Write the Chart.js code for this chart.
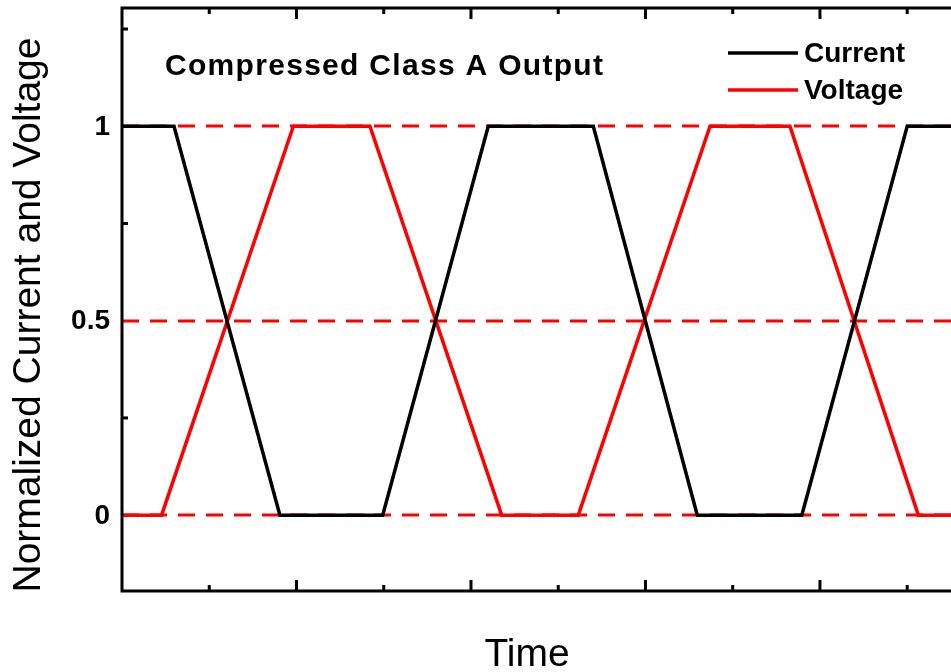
<!DOCTYPE html>
<html>
<head>
<meta charset="utf-8">
<title>Compressed Class A Output</title>
<script src="https://cdn.jsdelivr.net/npm/chart.js@4.4.1/dist/chart.umd.min.js"></script>
<style>
  html, body { margin: 0; padding: 0; background: #fff; overflow: hidden; }
  #wrap { width: 951px; height: 672px; }
</style>
</head>
<body>
<div id="wrap"><canvas id="waveChart" width="951" height="672"></canvas></div>
<script>
// Datos (tiempo en unidades de marca mayor)
const currentTime  = [0, 0.298, 0.905, 1.494, 2.099, 2.701, 3.297, 3.896, 4.5, 4.751];
const currentLevel = [1, 1, 0, 0, 1, 1, 0, 0, 1, 1];
const voltageTime  = [0, 0.227, 0.982, 1.421, 2.176, 2.615, 3.37, 3.828, 4.564, 4.751];
const voltageLevel = [0, 0, 1, 1, 0, 0, 1, 1, 0, 0];

// Marcas y etiquetas de los ejes
const yTickValues = [0, 0.5, 1];
const yTickLabels = ['0', '0.5', '1'];
const yMinorTicks = [0.25, 0.75, 1.25];
const xMajorTicks = [1, 2, 3, 4];
const xMinorTicks = [0.5, 1.5, 2.5, 3.5, 4.5];
const refLevels   = [0, 0.5, 1];

const seriesNames = ['Current', 'Voltage'];
const seriesColors = ['#000000', '#ff0000'];

const toPoints = (xs, ys) => xs.map((x, i) => ({ x: x, y: ys[i] }));

const FONT = '"Liberation Sans", Arial, sans-serif';

// Plugin: ejes en caja, marcas hacia dentro, líneas discontinuas y textos
const framePlugin = {
  id: 'frame',
  beforeDatasetsDraw(chart) {
    const { ctx, chartArea: a, scales: { y } } = chart;
    ctx.save();
    ctx.strokeStyle = '#ff0000';
    ctx.lineWidth = 3;
    ctx.setLineDash([17, 11]);
    refLevels.forEach(v => {
      const py = Math.round(y.getPixelForValue(v));
      ctx.beginPath();
      ctx.moveTo(a.left, py);
      ctx.lineTo(a.right, py);
      ctx.stroke();
    });
    ctx.restore();
  },
  afterDatasetsDraw(chart) {
    const { ctx, chartArea: a, scales: { x, y } } = chart;
    ctx.save();
    ctx.strokeStyle = '#000';
    ctx.lineWidth = 3;
    ctx.lineCap = 'square';
    // caja (sin borde derecho, recortado en el original)
    ctx.beginPath();
    ctx.moveTo(a.right + 5, a.top);
    ctx.lineTo(a.left, a.top);
    ctx.lineTo(a.left, a.bottom);
    ctx.lineTo(a.right + 5, a.bottom);
    ctx.stroke();

    ctx.lineCap = 'butt';
    const tickX = (list, len) => list.forEach(v => {
      const px = x.getPixelForValue(v);
      ctx.beginPath();
      ctx.moveTo(px, a.bottom); ctx.lineTo(px, a.bottom - len);
      ctx.moveTo(px, a.top); ctx.lineTo(px, a.top + len);
      ctx.stroke();
    });
    tickX(xMajorTicks, 11);
    tickX(xMinorTicks, 6);
    const tickY = (list, len) => list.forEach(v => {
      const py = y.getPixelForValue(v);
      ctx.beginPath();
      ctx.moveTo(a.left, py); ctx.lineTo(a.left + len, py);
      ctx.stroke();
    });
    tickY(yMinorTicks, 6);

    // etiquetas del eje Y
    ctx.fillStyle = '#000';
    ctx.font = 'bold 28px ' + FONT;
    ctx.textAlign = 'right';
    ctx.textBaseline = 'middle';
    yTickValues.forEach((v, i) => {
      ctx.fillText(yTickLabels[i], a.left - 12, y.getPixelForValue(v) + 1);
    });

    // títulos de los ejes
    ctx.font = '39px ' + FONT;
    ctx.textAlign = 'center';
    ctx.fillText('Time', 527, 655);
    ctx.save();
    ctx.translate(29, 315);
    ctx.rotate(-Math.PI / 2);
    ctx.fillText('Normalized Current and Voltage', 0, 0);
    ctx.restore();

    // título dentro del gráfico
    ctx.font = 'bold 30px ' + FONT;
    ctx.textAlign = 'left';
    ctx.letterSpacing = '1.3px';
    ctx.fillText('Compressed Class A Output', 165, 67);
    ctx.letterSpacing = '0px';

    // leyenda
    ctx.font = 'bold 28px ' + FONT;
    const legendY = [53, 90];
    seriesNames.forEach((name, i) => {
      ctx.strokeStyle = seriesColors[i];
      ctx.lineWidth = 3.5;
      ctx.beginPath();
      ctx.moveTo(728, legendY[i]);
      ctx.lineTo(798, legendY[i]);
      ctx.stroke();
      ctx.fillStyle = '#000';
      ctx.fillText(name, 804, legendY[i] + 1);
    });
    ctx.restore();
  }
};

const waveChart = new Chart(document.getElementById('waveChart'), {
  type: 'line',
  data: {
    datasets: [{
      label: seriesNames[0],
      data: toPoints(currentTime, currentLevel),
      borderColor: seriesColors[0],
      borderWidth: 3.5,
      pointRadius: 0,
      tension: 0
    }, {
      label: seriesNames[1],
      data: toPoints(voltageTime, voltageLevel),
      borderColor: seriesColors[1],
      borderWidth: 3.5,
      pointRadius: 0,
      tension: 0
    }]
  },
  options: {
    responsive: false,
    animation: false,
    events: [],
    layout: { padding: { left: 122, top: 8, right: 0, bottom: 81 } },
    plugins: {
      legend: { display: false },
      title: { display: false },
      tooltip: { enabled: false }
    },
    scales: {
      x: { type: 'linear', min: 0, max: 4.751, display: false },
      y: { type: 'linear', min: -0.195, max: 1.304, display: false }
    }
  },
  plugins: [framePlugin]
});
</script>
</body>
</html>
